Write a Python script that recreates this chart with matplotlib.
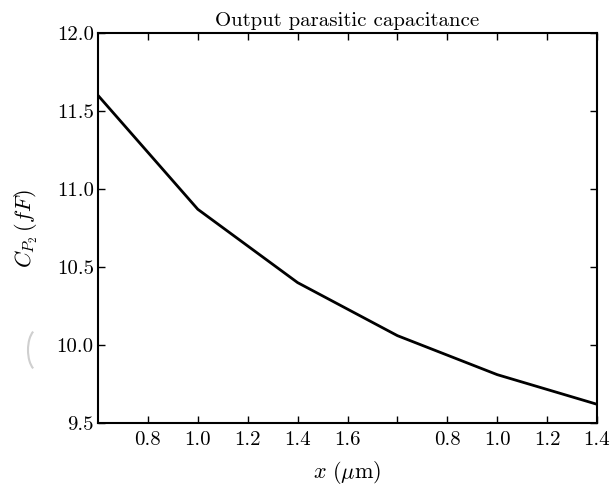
import numpy as np
import matplotlib
matplotlib.use("Agg")
import matplotlib.pyplot as plt
from matplotlib.patches import Arc

plt.rcParams["font.family"] = "serif"
plt.rcParams["font.serif"] = ["cmr10"]
plt.rcParams["mathtext.fontset"] = "cm"
plt.rcParams["axes.formatter.use_mathtext"] = True

# gate length sweep and output parasitic capacitance
x_um = [0.6, 1.0, 1.4, 1.8, 2.2, 2.6]
cp2_ff = [11.60, 10.87, 10.40, 10.06, 9.81, 9.62]

x_ticks = [0.8, 1.0, 1.2, 1.4, 1.6, 1.8, 2.0, 2.2, 2.4, 2.6]
x_tick_labels = ["0.8", "1.0", "1.2", "1.4", "1.6", "", "0.8", "1.0", "1.2", "1.4"]
y_ticks = [9.5, 10.0, 10.5, 11.0, 11.5, 12.0]

W, H = 613, 495
fig = plt.figure(figsize=(W / 100, H / 100), dpi=100)
ax = fig.add_axes([98 / W, 1 - 423 / H, 499 / W, 390 / H])

ax.plot(x_um, cp2_ff, color="black", lw=2.0)

ax.set_xlim(0.6, 2.6)
ax.set_ylim(9.5, 12.0)
ax.set_xticks(x_ticks)
ax.set_xticklabels(x_tick_labels)
ax.set_yticks(y_ticks)
ax.set_yticklabels([f"{v:.1f}" for v in y_ticks])

ax.tick_params(direction="in", top=True, right=True, length=5, width=1,
               labelsize=15)
ax.tick_params(axis="y", pad=3)
ax.tick_params(axis="x", pad=6)
for s in ax.spines.values():
    s.set_linewidth(1.5)

ax.set_title("Output parasitic capacitance", fontsize=15, pad=5)
ax.set_xlabel(r"$x\ (\mu\mathrm{m})$", fontsize=16, labelpad=7)
ax.set_ylabel(r"$C_{P_2}\,(fF)$", fontsize=16, labelpad=12)

# faint grey bracket at the left margin
arc = Arc((38 / W, 1 - 350 / H), 20 / W, 42 / H, theta1=102, theta2=258,
          transform=fig.transFigure, color="#cfcfcf", lw=1.5)
fig.add_artist(arc)

fig.savefig("out.png", dpi=100)
